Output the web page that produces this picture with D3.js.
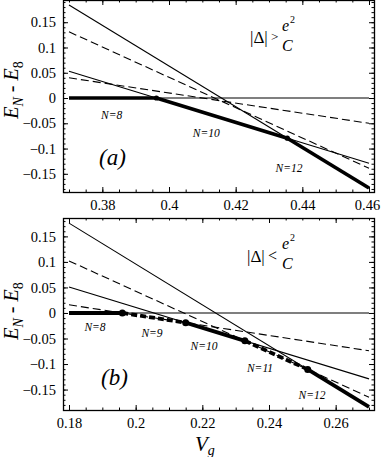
<!DOCTYPE html>
<html>
<head>
<meta charset="utf-8">
<script src="https://cdn.jsdelivr.net/npm/d3@7"></script>
<style>
  html, body { margin: 0; padding: 0; background: #fff; }
  svg text { font-family: "Liberation Serif", "Times New Roman", serif !important; fill: #000; }
</style>
</head>
<body>
<div id="chart"></div>
<script>
  "use strict";

  // charge states N, levels are E_N - E_8 (straight lines in Vg)
  var levels = [8, 9, 10, 11, 12]

  // panel (a): |Delta| > e^2/C
  var vgA = [0.37, 0.46]
  var startA = [0, 0.040, 0.053, 0.131, 0.184]   // E_N - E_8 at Vg = 0.37
  var endA = [0, -0.050, -0.129, -0.139, -0.178]  // E_N - E_8 at Vg = 0.46
  var xTicksA = [0.38, 0.40, 0.42, 0.44, 0.46]
  var stateLabelsA = [8, 10, 12]

  // panel (b): |Delta| < e^2/C
  var vgB = [0.18, 0.27]
  var startB = [0, 0.016, 0.051, 0.102, 0.176]
  var endB = [0, -0.074, -0.129, -0.165, -0.184]
  var xTicksB = [0.18, 0.20, 0.22, 0.24, 0.26]
  var stateLabelsB = [8, 9, 10, 11, 12]

  var yTicks = [0.15, 0.1, 0.05, 0, -0.05, -0.1, -0.15]

  var width = 381
    , height = 457
    , frameLeft = 63
    , frameRight = 374
    , dataLeft = 69
    , dataRight = 369

  var svg = d3.select("#chart")
    .append("svg")
    .attr("width", width)
    .attr("height", height)

  /* layout of each panel, label anchors are in data units */
  var panels = [
    {
      vg: vgA, start: startA, end: endA, xTicks: xTicksA, states: stateLabelsA
    , top: 0, bottom: 192, yDomain: [-0.186, 0.194]
    , stateAt: { 8: [0.3828, -0.042], 10: [0.4112, -0.077], 12: [0.436, -0.146] }
    , tag: "(a)", tagAt: [0.379, -0.133]
    , dotR: 2.6, thick: 3.6
    , yLabelY: 90
    , sign: ">"
    }
  , {
      vg: vgB, start: startB, end: endB, xTicks: xTicksB, states: stateLabelsB
    , top: 218, bottom: 410, yDomain: [-0.19, 0.186]
    , stateAt: { 8: [0.1878, -0.035], 9: [0.2049, -0.047], 10: [0.2205, -0.072], 11: [0.2373, -0.116], 12: [0.2529, -0.168] }
    , tag: "(b)", tagAt: [0.1896, -0.141]
    , dotR: 3.5, thick: 3.8
    , yLabelY: 311
    , sign: "<"
    }
  ]

  function levelValue(p, i, v) {
    return p.start[i] + (p.end[i] - p.start[i]) * (v - p.vg[0]) / (p.vg[1] - p.vg[0])
  }

  function slope(p, i) {
    return (p.end[i] - p.start[i]) / (p.vg[1] - p.vg[0])
  }

  // lower envelope of the lines = ground state, returns segments
  function groundState(p) {
    var v = p.vg[0]
      , cur = d3.minIndex(levels, function (d, i) { return levelValue(p, i, v) })
      , segs = []

    while (true) {
      var next = -1, nextV = p.vg[1]
      for (var j = 0; j < levels.length; j++) {
        if (j === cur || slope(p, j) >= slope(p, cur)) continue
        var vx = v + (levelValue(p, j, v) - levelValue(p, cur, v)) / (slope(p, cur) - slope(p, j))
        if (vx > v + 1e-9 && vx < nextV) { next = j; nextV = vx }
      }
      segs.push({ i: cur, from: v, to: nextV })
      if (next < 0) break
      cur = next
      v = nextV
    }
    return segs
  }

  panels.forEach(function (p) {
    var x = d3.scaleLinear().domain(p.vg).range([dataLeft, dataRight])
      , y = d3.scaleLinear().domain(p.yDomain).range([p.bottom, p.top])
      , g = svg.append("g")

    // frame
    g.append("rect")
      .attr("x", frameLeft + 0.5)
      .attr("y", p.top + 0.5)
      .attr("width", frameRight - frameLeft)
      .attr("height", p.bottom - p.top)
      .attr("fill", "none")
      .attr("stroke", "#000")
      .attr("stroke-width", 1.3)

    // minor tick values inside the frame
    var xMinor = d3.range(Math.ceil(x.invert(frameLeft) / 0.005 + 1e-6) * 0.005, x.invert(frameRight), 0.005)
      , yMinor = d3.range(Math.ceil(y.invert(p.bottom) / 0.01 + 1e-6) * 0.01, y.invert(p.top), 0.01)

    function ticks(axis, values, size, tr, fmt) {
      var a = g.append("g")
        .attr("transform", tr)
        .call(axis.tickValues(values).tickSize(size).tickSizeOuter(0).tickPadding(6).tickFormat(fmt))
      a.select(".domain").remove()
      a.selectAll("line").attr("stroke", "#000").attr("stroke-width", 1)
      return a
    }

    var none = function () { return "" }

    // bottom / top
    var xb = ticks(d3.axisBottom(x), p.xTicks, -5, "translate(0," + p.bottom + ")", function (d) { return d3.format("")(+d.toFixed(2)) })
    ticks(d3.axisBottom(x), xMinor, -2.5, "translate(0," + p.bottom + ")", none)
    ticks(d3.axisTop(x), p.xTicks, -5, "translate(0," + p.top + ")", none)
    ticks(d3.axisTop(x), xMinor, -2.5, "translate(0," + p.top + ")", none)
    xb.selectAll("text")
      .attr("font-size", "14.5px")
      .attr("dy", "0.82em")
      .attr("dx", function (d) { return x(d) > 360 ? -2 : 0 })

    // left / right
    var yl = ticks(d3.axisLeft(y), yTicks, -5, "translate(" + frameLeft + ",0)", function (d) { return d === 0 ? "0" : d3.format("")(+d.toFixed(2)) })
    ticks(d3.axisLeft(y), yMinor, -2.5, "translate(" + frameLeft + ",0)", none)
    ticks(d3.axisRight(y), yTicks, -5, "translate(" + frameRight + ",0)", none)
    ticks(d3.axisRight(y), yMinor, -2.5, "translate(" + frameRight + ",0)", none)
    yl.selectAll("text")
      .attr("font-size", "14.5px")
      .attr("x", -7)

    // thin level lines, odd N dashed
    var line = d3.line().x(function (d) { return x(d[0]) }).y(function (d) { return y(d[1]) })

    g.selectAll(".level")
      .data(levels)
      .enter().append("path")
        .attr("class", "level")
        .attr("d", function (d, i) { return line([[p.vg[0], p.start[i]], [p.vg[1], p.end[i]]]) })
        .attr("fill", "none")
        .attr("stroke", "#000")
        .attr("stroke-width", 1.1)
        .attr("stroke-dasharray", function (d) { return d % 2 ? "8,4" : null })

    // ground state, thick
    var segs = groundState(p)

    g.selectAll(".ground")
      .data(segs)
      .enter().append("path")
        .attr("class", "ground")
        .attr("d", function (s) { return line([[s.from, levelValue(p, s.i, s.from)], [s.to, levelValue(p, s.i, s.to)]]) })
        .attr("fill", "none")
        .attr("stroke", "#000")
        .attr("stroke-width", p.thick)
        .attr("stroke-dasharray", function (s) { return levels[s.i] % 2 ? "6,3" : null })

    g.selectAll(".switch")
      .data(segs.slice(1))
      .enter().append("circle")
        .attr("cx", function (s) { return x(s.from) })
        .attr("cy", function (s) { return y(levelValue(p, s.i, s.from)) })
        .attr("r", p.dotR)
        .attr("fill", "#000")

    // N labels
    g.selectAll(".state")
      .data(p.states)
      .enter().append("text")
        .attr("x", function (d) { return x(p.stateAt[d][0]) })
        .attr("y", function (d) { return y(p.stateAt[d][1]) })
        .attr("text-anchor", "middle")
        .attr("font-size", "11.5px")
        .attr("font-style", "italic")
        .text(function (d) { return "N=" + d })

    // panel tag
    g.append("text")
      .attr("x", x(p.tagAt[0]))
      .attr("y", y(p.tagAt[1]))
      .attr("font-size", "23px")
      .attr("font-style", "italic")
      .text(p.tag)

    // |Delta| vs e^2/C
    var t = p.top
      , big = p.sign === ">"
      , base = big ? t + 43 : t + 44
    g.append("text")
      .attr("x", big ? 250 : 247)
      .attr("y", base)
      .attr("font-size", "17px")
      .text("|\u0394|")
    g.append("text")
      .attr("x", big ? 271 : 268)
      .attr("y", base - (big ? 2 : 1))
      .attr("font-size", big ? "13px" : "16px")
      .text(p.sign)
    g.append("text")
      .attr("x", 282)
      .attr("y", t + 31)
      .attr("font-size", "16px")
      .attr("font-style", "italic")
      .text("e")
    g.append("text")
      .attr("x", 290)
      .attr("y", t + 23)
      .attr("font-size", "10px")
      .text("2")
    g.append("text")
      .attr("x", 282)
      .attr("y", t + 51)
      .attr("font-size", "16px")
      .attr("font-style", "italic")
      .text("C")

    // y axis title E_N - E_8
    var yt = g.append("text")
      .attr("transform", "translate(18," + p.yLabelY + ") rotate(-90)")
      .attr("text-anchor", "middle")
      .attr("font-size", "20px")
    yt.append("tspan").attr("font-style", "italic").text("E")
    yt.append("tspan").attr("font-style", "italic").attr("font-size", "14px").attr("dy", 5).text("N")
    yt.append("tspan").attr("dy", -5).text(" - ")
    yt.append("tspan").attr("font-style", "italic").text("E")
    yt.append("tspan").attr("font-size", "14px").attr("dy", 5).text("8")
  })

  // x axis title V_g
  var vt = svg.append("text")
    .attr("x", 195)
    .attr("y", 451)
    .attr("font-size", "21px")
  vt.append("tspan").attr("font-style", "italic").text("V")
  vt.append("tspan").attr("font-style", "italic").attr("font-size", "14px").attr("dy", 4).text("g")
</script>
</body>
</html>
